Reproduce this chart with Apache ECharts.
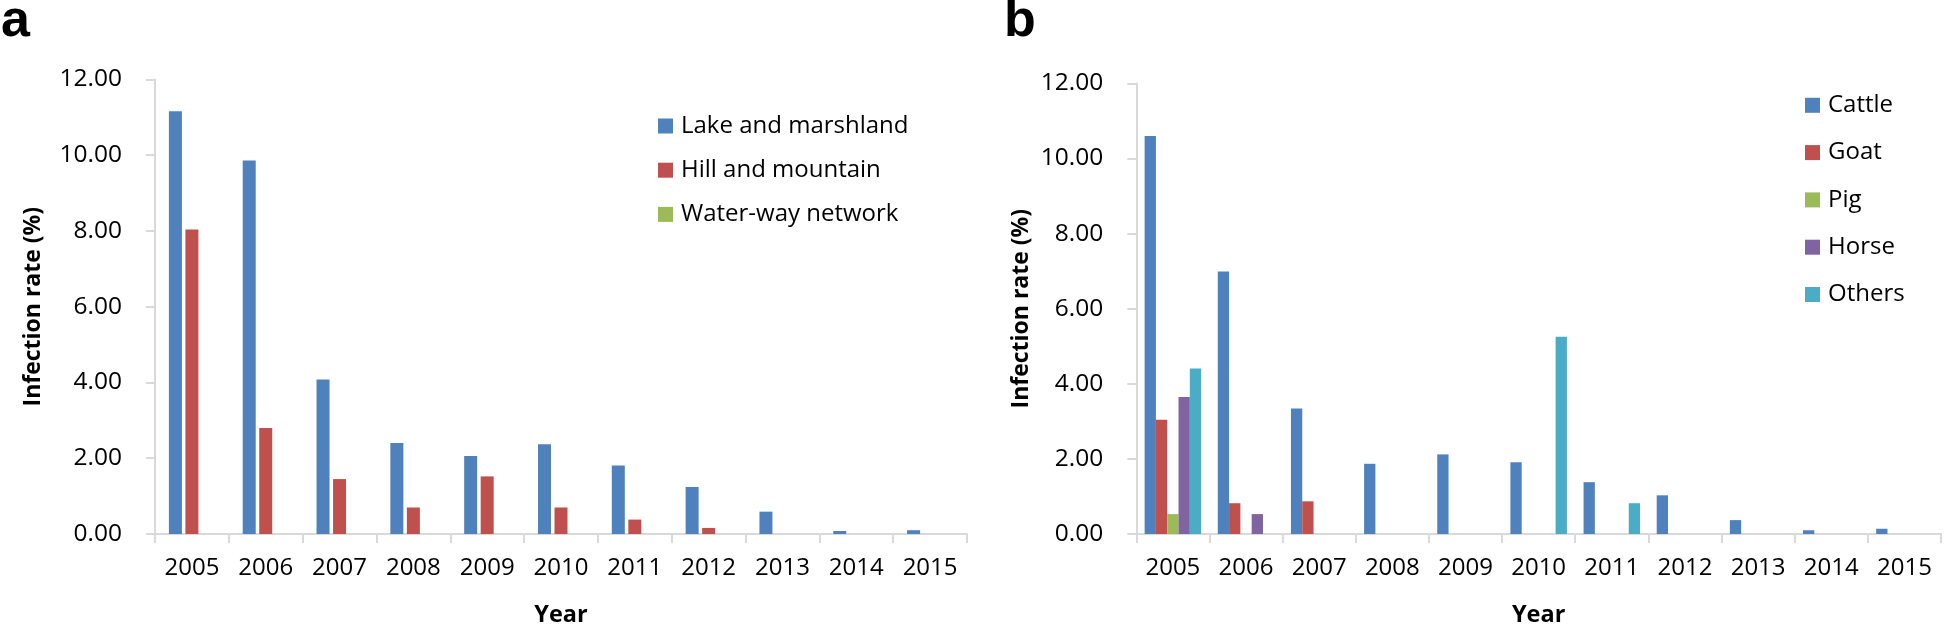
<!DOCTYPE html>
<html><head><meta charset="utf-8">
<script src="https://cdn.jsdelivr.net/npm/echarts@6/dist/echarts.min.js"></script>
<style>html,body{margin:0;padding:0;background:#fff}#c{width:1946px;height:632px}</style>
</head><body><div id="c"></div>
<script>
const years = ['2005','2006','2007','2008','2009','2010','2011','2012','2013','2014','2015'];
// Panel a
const lakeMarsh    = [11.16, 9.86, 4.08, 2.40, 2.06, 2.37, 1.81, 1.24, 0.59, 0.08, 0.10];
const hillMountain = [8.04, 2.80, 1.45, 0.70, 1.52, 0.70, 0.38, 0.16, 0, 0, 0];
const waterway     = [0, 0, 0, 0, 0, 0, 0, 0, 0, 0, 0];
// Panel b
const cattle = [10.60, 6.99, 3.34, 1.87, 2.12, 1.91, 1.38, 1.03, 0.37, 0.10, 0.14];
const goat   = [3.04, 0.82, 0.87, 0, 0, 0, 0, 0, 0, 0, 0];
const pig    = [0.53, 0, 0, 0, 0, 0, 0, 0, 0, 0, 0];
const horse  = [3.65, 0.53, 0, 0, 0, 0, 0, 0, 0, 0, 0];
const others = [4.41, 0, 0, 0, 0, 5.25, 0.82, 0, 0, 0, 0];
const yMin = 0, yMax = 12, yStep = 2;

const FONT = 'Open Sans';
const AX = '#d9d9d9';
const C = {blue:'#4F81BD', red:'#C0504D', green:'#9BBB59', purple:'#8064A2', cyan:'#4BACC6'};

function xAx(gi){
  return {
    type:'category', gridIndex:gi, data:years,
    axisLine:{lineStyle:{color:AX, width:2}},
    axisTick:{show:true, length:9, interval:0, lineStyle:{color:AX, width:2}},
    axisLabel:{color:'#000', fontFamily:FONT, fontSize:24, margin:22, interval:0},
    name:'Year', nameLocation:'middle', nameGap:69,
    nameTextStyle:{color:'#000', fontFamily:FONT, fontWeight:'bold', fontSize:23.5}
  };
}
function yAx(gi, gap){
  return {
    type:'value', gridIndex:gi, min:yMin, max:yMax, interval:yStep,
    splitLine:{show:false},
    axisLine:{show:true, lineStyle:{color:AX, width:2}},
    axisTick:{show:true, length:9, lineStyle:{color:AX, width:2}},
    axisLabel:{color:'#000', fontFamily:FONT, fontSize:24.5, margin:33, formatter:v=>v.toFixed(2)},
    name:'Infection rate (%)', nameLocation:'middle', nameGap:gap,
    nameTextStyle:{color:'#000', fontFamily:FONT, fontWeight:'bold', fontSize:23}
  };
}
function bar(name, data, color, gi, w, gap){
  return {type:'bar', name, data, xAxisIndex:gi, yAxisIndex:gi,
    itemStyle:{color}, barWidth:w, barGap:gap, animation:false};
}

const chart = echarts.init(document.getElementById('c'), null, {renderer:'canvas'});
chart.setOption({
  animation:false,
  title:[
    {text:'a', left:1, top:-4, padding:0, textStyle:{fontFamily:'Liberation Sans', fontWeight:'bold', fontSize:52, color:'#000'}},
    {text:'b', left:1004, top:-4, padding:0, textStyle:{fontFamily:'Liberation Sans', fontWeight:'bold', fontSize:52, color:'#000'}}
  ],
  grid:[
    {left:155, right:979, top:79.4, bottom:93.5},
    {left:1136.3, right:5, top:83.4, bottom:95.1}
  ],
  legend:[
    {orient:'vertical', left:658, top:113, padding:0, itemWidth:15, itemHeight:15, itemGap:18.2,
     icon:'rect', textStyle:{fontFamily:FONT, fontSize:24, color:'#000', lineHeight:26, padding:[0,0,0,3]},
     data:['Lake and marshland','Hill and mountain','Water-way network']},
    {orient:'vertical', left:1805, top:92.3, padding:0, itemWidth:15, itemHeight:15, itemGap:21.3,
     icon:'rect', textStyle:{fontFamily:FONT, fontSize:24, color:'#000', lineHeight:26, padding:[0,0,0,3]},
     data:['Cattle','Goat','Pig','Horse','Others']}
  ],
  xAxis:[xAx(0), xAx(1)],
  yAxis:[yAx(0,110), yAx(1,103)],
  series:[
    bar('Lake and marshland', lakeMarsh, C.blue, 0, 13, '27%'),
    bar('Hill and mountain', hillMountain, C.red, 0, 13, '27%'),
    bar('Water-way network', waterway, C.green, 0, 13, '27%'),
    bar('Cattle', cattle, C.blue, 1, 11.3, '0%'),
    bar('Goat', goat, C.red, 1, 11.3, '0%'),
    bar('Pig', pig, C.green, 1, 11.3, '0%'),
    bar('Horse', horse, C.purple, 1, 11.3, '0%'),
    bar('Others', others, C.cyan, 1, 11.3, '0%')
  ]
});
</script></body></html>
